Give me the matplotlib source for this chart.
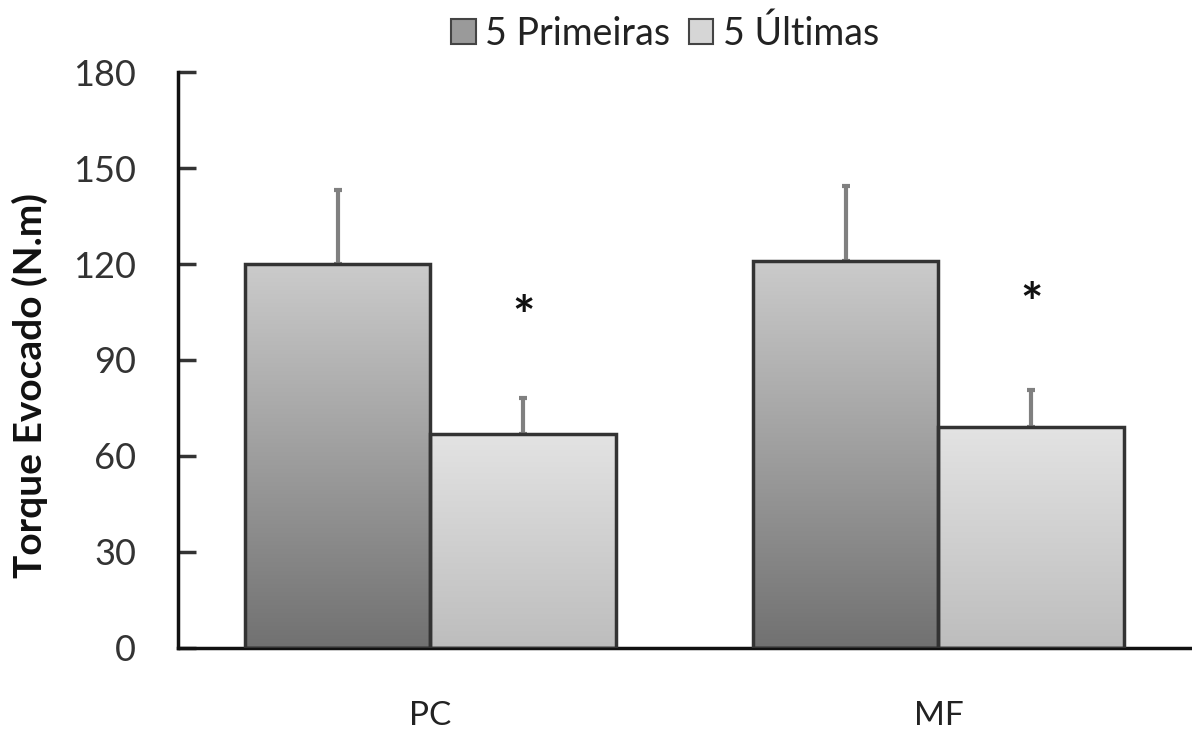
import numpy as np
import matplotlib.pyplot as plt
from matplotlib.colors import LinearSegmentedColormap
from matplotlib.patches import Patch

categories = ['PC', 'MF']
series = ['5 Primeiras', '5 Últimas']
primeiras = [120, 121]
primeiras_err = [23, 23.5]
ultimas = [67, 69]
ultimas_err = [11, 11.5]
star_y = [107, 111]

plt.rcParams['font.family'] = ['Lato', 'DejaVu Sans']

fig = plt.figure(figsize=(11.92, 7.32), dpi=100)
ax = fig.add_axes([0.1493, 0.1148, 0.851, 0.7868])

x = np.arange(len(categories))
width = 0.365
grad_dark = LinearSegmentedColormap.from_list('d', ['#717171', '#cbcbcb'])
grad_light = LinearSegmentedColormap.from_list('l', ['#bdbdbd', '#e3e3e3'])
grad = np.linspace(0, 1, 256).reshape(-1, 1)


def gradient_bars(xs, vals, cmap):
    bars = ax.bar(xs, vals, width, facecolor='none', edgecolor='#333333',
                  linewidth=2.5, zorder=3)
    for b in bars:
        x0, y0 = b.get_x(), b.get_y()
        im = ax.imshow(grad, extent=[x0, x0 + b.get_width(), y0, y0 + b.get_height()],
                       origin='lower', cmap=cmap, aspect='auto', zorder=2)
        im.set_clip_path(b)
    return bars


gradient_bars(x - width / 2, primeiras, grad_dark)
gradient_bars(x + width / 2, ultimas, grad_light)

ax.errorbar(x - width / 2, primeiras, yerr=[np.zeros(2), primeiras_err], fmt='none',
            ecolor='#808080', elinewidth=3, capsize=3, capthick=3, zorder=1)
ax.errorbar(x + width / 2, ultimas, yerr=[np.zeros(2), ultimas_err], fmt='none',
            ecolor='#808080', elinewidth=3, capsize=3, capthick=3, zorder=1)

# asterisk glyph sits high in its box, so nudge it down
for xi, sy in zip(x + width / 2, star_y):
    ax.annotate('*', (xi, sy), xytext=(0, -10), textcoords='offset points',
                ha='center', va='center', fontsize=38, color='#111111',
                fontweight='bold')

ax.set_xlim(-0.497, 1.5)
ax.set_ylim(0, 180)
ax.set_yticks(np.arange(0, 181, 30))
ax.set_xticks(x)
ax.set_xticklabels(categories)
ax.tick_params(axis='x', length=0, pad=38, labelsize=24, colors='#222222')
ax.tick_params(axis='y', direction='in', length=13, width=2.5, pad=30,
               labelsize=26, colors='#333333')
for s in ['top', 'right']:
    ax.spines[s].set_visible(False)
for s in ['left', 'bottom']:
    ax.spines[s].set_linewidth(2.5)
    ax.spines[s].set_color('#111111')

ax.set_ylabel('Torque Evocado (N.m)', fontsize=28, fontweight='bold',
              color='#111111')
ax.yaxis.set_label_coords(-0.128, 0.455)

handles = [Patch(facecolor='#9a9a9a', edgecolor='#444444', linewidth=1.5),
           Patch(facecolor='#d6d6d6', edgecolor='#444444', linewidth=1.5)]
fig.legend(handles, series, loc='upper center', bbox_to_anchor=(0.558, 1.025),
           ncol=2, frameon=False, fontsize=27, handlelength=0.65, handleheight=0.65,
           handletextpad=0.25, columnspacing=0.5, labelcolor='#222222')

fig.savefig('out.png', dpi=100)
